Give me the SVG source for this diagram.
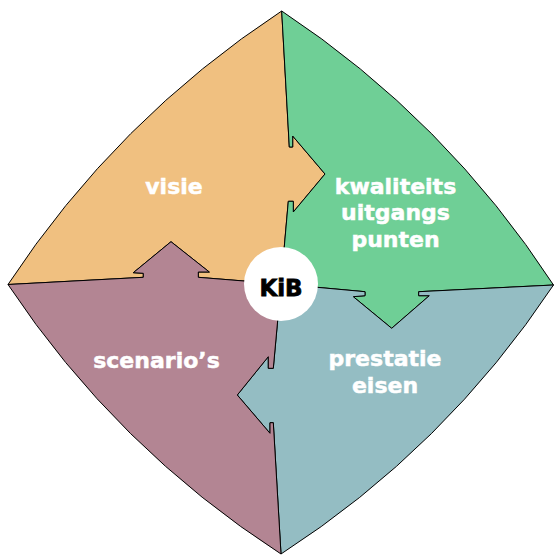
<svg xmlns="http://www.w3.org/2000/svg" width="554" height="555" viewBox="0 0 554 555">
  <style>
    .q { stroke: #000; stroke-width: 1; stroke-linejoin: miter; }
    .lbl { font-family: "DejaVu Sans", "Liberation Sans", sans-serif; font-weight: bold; font-size: 22px; fill: #fff; stroke: #fff; stroke-width: 0.5; text-anchor: middle; }
    .kib { font-family: "DejaVu Sans", "Liberation Sans", sans-serif; font-weight: bold; font-size: 23px; fill: #000; stroke: #000; stroke-width: 0.8; text-anchor: middle; }
  </style>
  <rect width="554" height="555" fill="#fff"/>
  <g id="visie">
    <path class="q" fill="#F0C080" d="M8,284.5 Q116.6,119.5 281.7,11 L289.3,147 L292.7,147 L292.7,136 L325,174 L293.3,212 L293.3,201.3 L288.3,201.3 L281,284 L198.3,277.3 L198.3,272 L209.3,272 L171,241.7 L133.3,272.7 L143.3,273.3 L143.3,277.3 Z"/>
    <text class="lbl" x="174" y="194">visie</text>
  </g>
  <g id="kwaliteitsuitgangspunten">
    <path class="q" fill="#6FCF96" d="M281.7,11 Q445.9,119.7 553.5,285 L418.7,291.7 L418.7,295.7 L429.3,295.7 L391.7,328.3 L353.3,296.7 L365,295.7 L365,291.7 L281,284 L288.3,201.3 L293.3,201.3 L293.3,212 L325,174 L292.7,136 L292.7,147 L289.3,147 Z"/>
    <text class="lbl" x="395.5" y="193.5">kwaliteits</text>
    <text class="lbl" x="395.5" y="220">uitgangs</text>
    <text class="lbl" x="395.5" y="247">punten</text>
  </g>
  <g id="prestatie-eisen">
    <path class="q" fill="#94BDC3" d="M553.5,285 Q445.5,447.8 281,554 L273.3,422.7 L270,422.7 L270,433.3 L237.3,395 L268.3,356.7 L268.3,368.3 L273.3,368.3 L281,284 L365,291.7 L365,295.7 L353.3,296.7 L391.7,328.3 L429.3,295.7 L418.7,295.7 L418.7,291.7 Z"/>
    <text class="lbl" x="385" y="366">prestatie</text>
    <text class="lbl" x="385" y="393">eisen</text>
  </g>
  <g id="scenarios">
    <path class="q" fill="#B38593" d="M281,554 Q116.2,447.5 8,284.5 L143.3,277.3 L143.3,273.3 L133.3,272.7 L171,241.7 L209.3,272 L198.3,272 L198.3,277.3 L281,284 L273.3,368.3 L268.3,368.3 L268.3,356.7 L237.3,395 L270,433.3 L270,422.7 L273.3,422.7 Z"/>
    <text class="lbl" x="156.5" y="367.5">scenario’s</text>
  </g>
  <g id="kib">
    <circle cx="281" cy="284" r="37" fill="#fff"/>
    <text class="kib" x="281" y="295.5">KiB</text>
  </g>
</svg>
